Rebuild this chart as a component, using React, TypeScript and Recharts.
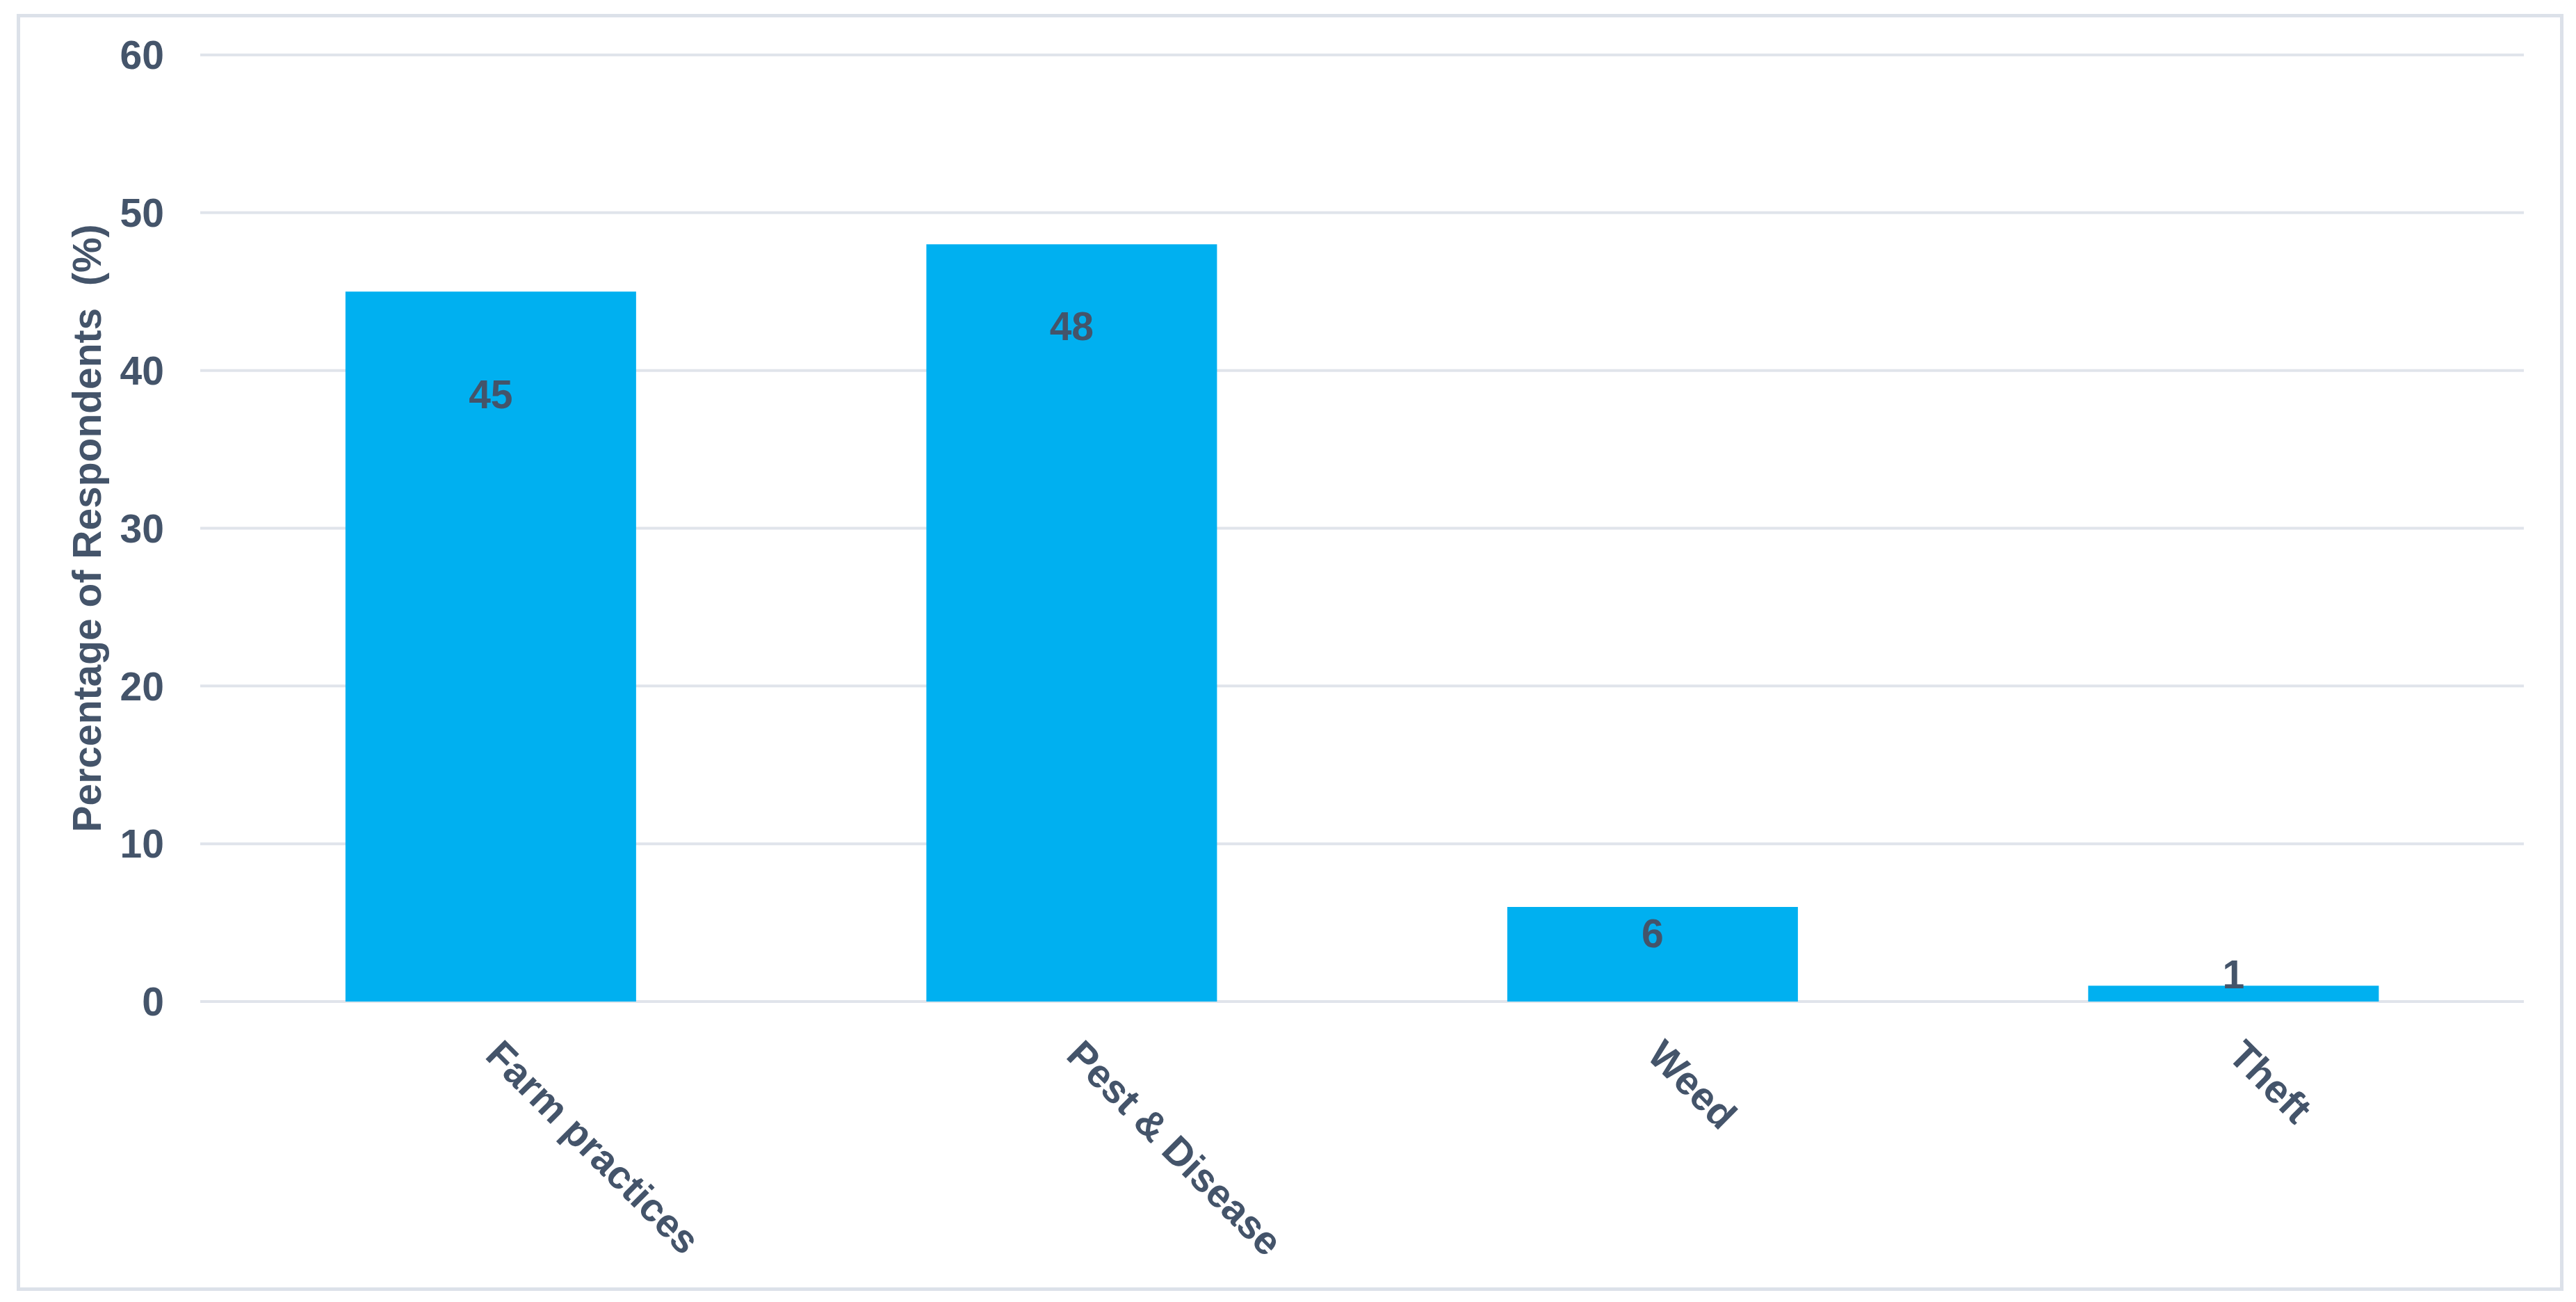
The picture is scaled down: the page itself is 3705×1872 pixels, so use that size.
import React from "react";
import { BarChart, Bar, XAxis, YAxis, CartesianGrid, LabelList, Label } from "recharts";

const categories: string[] = ["Farm practices", "Pest & Disease", "Weed", "Theft"];
const respondentsPct: number[] = [45, 48, 6, 1];
const yTicks: number[] = [0, 10, 20, 30, 40, 50, 60];
const yTitle = "Percentage of Respondents  (%)";

const data = categories.map((c, i) => ({ name: c, value: respondentsPct[i] }));

const TEXT = "#44546A";
const BAR = "#00B0F0";
const GRID = "#E0E4EB";
const FONT = "'Liberation Sans', Arial, sans-serif";
const FS = 57;
// label vertical offset from bar top (px), as placed in the original
const LABEL_SHIFT = [148, 118, 38, -17];

const XTick = (props: any) => {
  const { x, y, payload } = props;
  const px = x - 10;
  const py = y + 80;
  return (
    <text
      x={px}
      y={py}
      transform={`rotate(45, ${px}, ${py})`}
      textAnchor="start"
      fill={TEXT}
      fontFamily={FONT}
      fontWeight="bold"
      fontSize={FS}
    >
      {payload.value}
    </text>
  );
};

const YTick = (props: any) => {
  const { x, y, payload } = props;
  return (
    <text x={x} y={y} dy="0.355em" textAnchor="end" fill={TEXT} fontFamily={FONT} fontWeight="bold" fontSize={FS}>
      {payload.value}
    </text>
  );
};

const ValueLabel = (props: any) => {
  const { x, y, width, value } = props;
  let idx = props.index;
  if (typeof idx !== "number") idx = respondentsPct.indexOf(Number(value));
  const shift = LABEL_SHIFT[idx] ?? 0;
  return (
    <text
      x={Number(x) + Number(width) / 2}
      y={Number(y) + shift}
      dy="0.355em"
      textAnchor="middle"
      fill={TEXT}
      fontFamily={FONT}
      fontWeight="bold"
      fontSize={FS}
    >
      {value}
    </text>
  );
};

const YTitle = (props: any) => {
  const vb = props.viewBox || {};
  const cy = vb.y + vb.height / 2;
  const bx = 145;
  return (
    <text
      x={bx}
      y={cy}
      transform={`rotate(-90, ${bx}, ${cy})`}
      textAnchor="middle"
      fill={TEXT}
      fontFamily={FONT}
      fontWeight="bold"
      fontSize={FS}
      style={{ whiteSpace: "pre" }}
    >
      {yTitle}
    </text>
  );
};

export default function App() {
  return (
    <div style={{ position: "absolute", left: 0, top: 0, width: 3705, height: 1872, background: "#fff" }}>
      <div
        style={{
          position: "absolute",
          left: 24,
          top: 20,
          width: 3663,
          height: 1836,
          border: "5px solid #DCE1E9",
          boxSizing: "border-box",
        }}
      />
      <div style={{ position: "absolute", left: 0, top: 0 }}>
        <BarChart
          width={3705}
          height={1872}
          data={data}
          margin={{ top: 79, right: 75, bottom: 312, left: 0 }}
          barCategoryGap="25%"
        >
          <CartesianGrid vertical={false} stroke={GRID} strokeWidth={4} />
          <XAxis
            dataKey="name"
            axisLine={false}
            tickLine={false}
            tickSize={0}
            tickMargin={0}
            interval={0}
            tick={<XTick />}
            height={120}
          />
          <YAxis
            domain={[0, 60]}
            ticks={yTicks}
            axisLine={false}
            tickLine={false}
            tickSize={0}
            tickMargin={52}
            width={288}
            tick={<YTick />}
          >
            <Label content={<YTitle />} />
          </YAxis>
          <Bar dataKey="value" fill={BAR} isAnimationActive={false}>
            <LabelList dataKey="value" content={<ValueLabel />} />
          </Bar>
        </BarChart>
      </div>
    </div>
  );
}
